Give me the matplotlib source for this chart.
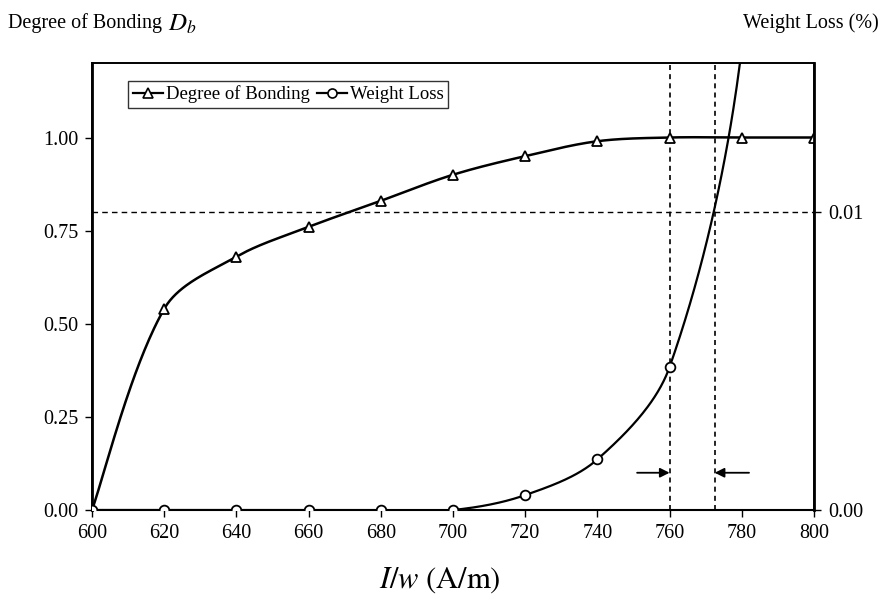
import numpy as np
import matplotlib
matplotlib.use("Agg")
import matplotlib.pyplot as plt
from matplotlib.lines import Line2D

plt.rcParams["font.family"] = ["Liberation Serif", "DejaVu Serif"]
plt.rcParams["mathtext.fontset"] = "stix"

# Current per unit width (A/m)
current = [600, 620, 640, 660, 680, 700, 720, 740, 760, 780, 800]
# Degree of bonding D_b
bonding = [0.0, 0.54, 0.68, 0.76, 0.83, 0.90, 0.95, 0.99, 1.00, 1.00, 1.00]
# Weight loss (%)
weight_loss = [0.0, 0.0, 0.0, 0.0, 0.0, 0.0, 0.0005, 0.0017, 0.0048, 0.0155, 0.045]

left_ticks = [0.00, 0.25, 0.50, 0.75, 1.00]
right_ticks = [0.00, 0.01]
x_ticks = [600, 620, 640, 660, 680, 700, 720, 740, 760, 780, 800]

bonding_threshold = 0.80      # on the D_b scale
loss_threshold = 0.01         # on the weight-loss scale
window_low = 760
window_high = 772.5


def smooth_curve(axis, x, y, n=60):
    """Chord-weighted Bezier smoothing computed in screen space."""
    trans = axis.transData
    pts = trans.transform(np.column_stack([x, y]))
    m = len(pts)
    seg = np.linalg.norm(np.diff(pts, axis=0), axis=1)
    tang = np.zeros_like(pts)
    for i in range(m):
        a = pts[max(i - 1, 0)]
        b = pts[min(i + 1, m - 1)]
        tang[i] = b - a
    t = np.linspace(0, 1, n)[:, None]
    out = []
    for i in range(m - 1):
        p0, p3 = pts[i], pts[i + 1]
        L = seg[i]
        Lp = seg[i - 1] if i > 0 else L
        Ln = seg[i + 1] if i + 1 < m - 1 else L
        w0 = L / (Lp + L) if (Lp + L) > 0 else 0.5
        w1 = L / (L + Ln) if (L + Ln) > 0 else 0.5
        if i == 0:
            w0 = 0.5
        if i == m - 2:
            w1 = 0.5
        c1 = p0 + tang[i] * w0 / 3
        c2 = p3 - tang[i + 1] * w1 / 3
        b = (1 - t) ** 3 * p0 + 3 * (1 - t) ** 2 * t * c1 + 3 * (1 - t) * t ** 2 * c2 + t ** 3 * p3
        out.append(b)
    disp = np.vstack(out)
    data = trans.inverted().transform(disp)
    return data[:, 0], data[:, 1]


fig = plt.figure(figsize=(8.82, 6.07), dpi=100)
ax = fig.add_axes([0.1043, 0.1598, 0.8186, 0.7364])
ax2 = ax.twinx()

ax.set_xlim(600, 800)
ax.set_ylim(0, 1.2)
ax2.set_xlim(600, 800)
ax2.set_ylim(0, 1.2 * loss_threshold / bonding_threshold)

# Reference lines
ax.axhline(bonding_threshold, color="black", lw=1.0, ls=(0, (4, 3)), zorder=1)
for xv in (window_low, window_high):
    ax.axvline(xv, color="black", lw=1.2, ls=(0, (3, 2.5)), zorder=1)

# Degree of bonding curve
sx, sy = smooth_curve(ax, current, bonding)
ax.plot(sx, sy, color="black", lw=1.8, zorder=3)
ax.plot(current, bonding, ls="none", marker="^", ms=7, mfc="white",
        mec="black", mew=1.3, zorder=4)

# Weight loss curve
wx, wy = smooth_curve(ax2, current, weight_loss)
ax2.plot(wx, wy, color="black", lw=1.6, zorder=3)
ax2.plot(current, weight_loss, ls="none", marker="o", ms=7, mfc="white",
         mec="black", mew=1.3, zorder=4)

# Arrows marking the window
arrow_y = 0.10
ax.annotate("", xy=(window_low, arrow_y), xytext=(window_low - 9, arrow_y),
            arrowprops=dict(arrowstyle="-|>", color="black", lw=1.3,
                            mutation_scale=14, shrinkA=0, shrinkB=0))
ax.annotate("", xy=(window_high, arrow_y), xytext=(window_high + 9.5, arrow_y),
            arrowprops=dict(arrowstyle="-|>", color="black", lw=1.3,
                            mutation_scale=14, shrinkA=0, shrinkB=0))

# Axes styling
ax.set_xticks(x_ticks)
ax.set_yticks(left_ticks)
ax.set_yticklabels([f"{v:.2f}" for v in left_ticks])
ax2.set_yticks(right_ticks)
ax2.set_yticklabels([f"{v:.2f}" for v in right_ticks])
for a in (ax, ax2):
    a.tick_params(direction="out", length=5, width=1.0, labelsize=14.5, pad=5)
    for s in a.spines.values():
        s.set_linewidth(1.2)
ax2.spines["right"].set_linewidth(2.0)
ax.spines["left"].set_linewidth(2.0)
ax.spines["bottom"].set_linewidth(1.5)

ax.set_xlabel(r"$I/w\ \left(\mathrm{A/m}\right)$", fontsize=22, labelpad=16)
ax.xaxis.label.set_x(0.482)

fig.text(0.009, 0.962, "Degree of Bonding", fontsize=14.5, ha="left", va="center")
fig.text(0.19, 0.960, r"$D_b$", fontsize=18, ha="left", va="center")
fig.text(0.996, 0.962, "Weight Loss (%)", fontsize=14.5, ha="right", va="center")

handles = [
    Line2D([], [], color="black", lw=1.6, marker="^", ms=6.5, mfc="white", mec="black", mew=1.2),
    Line2D([], [], color="black", lw=1.6, marker="o", ms=6.5, mfc="white", mec="black", mew=1.2),
]
leg = ax2.legend(handles, ["Degree of Bonding", "Weight Loss"], loc="upper left",
                 bbox_to_anchor=(0.05, 0.96), ncol=2, fontsize=13.5, frameon=True,
                 fancybox=False, edgecolor="black", handlelength=1.6, handletextpad=0.15,
                 columnspacing=0.4, borderpad=0.25, borderaxespad=0)
leg.get_frame().set_linewidth(1.0)

fig.savefig("out.png", dpi=100)
